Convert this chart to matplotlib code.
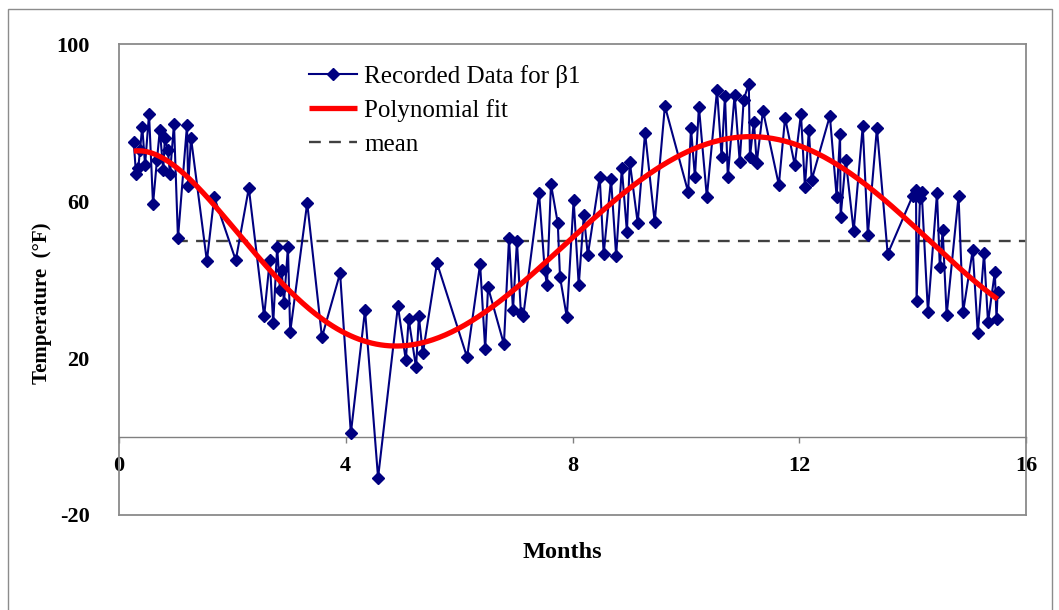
import numpy as np
import matplotlib
matplotlib.use("Agg")
import matplotlib.pyplot as plt
from matplotlib.patches import Rectangle

# Recorded temperatures (°F) against time (months)
months = [0.26, 0.30, 0.34, 0.37, 0.41, 0.46, 0.53, 0.60, 0.67, 0.72,
          0.78, 0.81, 0.86, 0.90, 0.97, 1.04, 1.20, 1.22, 1.27, 1.55,
          1.68, 2.06, 2.29, 2.56, 2.66, 2.72, 2.79, 2.84, 2.87, 2.91,
          2.98, 3.02, 3.32, 3.58, 3.90, 4.09, 4.34, 4.57, 4.92, 5.06,
          5.11, 5.24, 5.29, 5.36, 5.61, 6.14, 6.37, 6.46, 6.51, 6.79,
          6.88, 6.95, 7.02, 7.09, 7.13, 7.41, 7.51, 7.55, 7.62, 7.74,
          7.78, 7.90, 8.02, 8.11, 8.20, 8.27, 8.48, 8.55, 8.68, 8.77,
          8.87, 8.96, 9.01, 9.15, 9.28, 9.45, 9.63, 10.04, 10.09, 10.16,
          10.23, 10.37, 10.55, 10.63, 10.69, 10.74, 10.86, 10.95, 11.02, 11.11,
          11.13, 11.20, 11.25, 11.36, 11.64, 11.75, 11.92, 12.03, 12.10, 12.17,
          12.22, 12.54, 12.66, 12.72, 12.73, 12.82, 12.96, 13.12, 13.21, 13.37,
          13.56, 14.00, 14.06, 14.07, 14.13, 14.16, 14.27, 14.43, 14.48, 14.53,
          14.60, 14.81, 14.89, 15.06, 15.15, 15.26, 15.33, 15.45, 15.48, 15.50]
temps = [75.1, 66.9, 68.4, 73.0, 78.9, 69.2, 82.2, 59.2, 70.5, 78.1,
         67.9, 76.1, 73.0, 66.9, 79.7, 50.5, 79.4, 63.8, 76.1, 44.7,
         61.0, 44.9, 63.3, 30.6, 44.9, 28.8, 48.3, 37.3, 42.4, 34.0,
         48.3, 26.6, 59.5, 25.3, 41.6, 0.8, 32.2, -10.5, 33.2, 19.4,
         29.9, 17.6, 30.6, 21.2, 44.2, 20.2, 43.9, 22.2, 38.0, 23.5,
         50.5, 32.2, 49.8, 31.4, 30.6, 62.0, 42.4, 38.5, 64.3, 54.4,
         40.6, 30.4, 60.3, 38.5, 56.4, 46.2, 66.1, 46.5, 65.6, 46.0,
         68.4, 52.1, 70.0, 54.4, 77.4, 54.6, 84.2, 62.3, 78.6, 66.1,
         84.0, 61.0, 88.3, 71.2, 86.8, 66.1, 87.1, 70.0, 85.8, 89.9,
         71.2, 80.2, 69.7, 83.0, 64.1, 81.2, 69.2, 82.2, 63.6, 78.1,
         65.4, 81.7, 61.0, 77.1, 55.9, 70.5, 52.3, 79.1, 51.3, 78.6,
         46.5, 61.3, 62.8, 34.5, 60.8, 62.3, 31.7, 62.0, 43.1, 52.6,
         30.9, 61.3, 31.7, 47.5, 26.3, 46.7, 29.1, 41.9, 29.9, 36.8]

# Mean level and the span over which it is drawn
mean_temp = 49.9
mean_span = [1.0, 16.0]

x_ticks = [0, 4, 8, 12, 16]
y_ticks = [-20, 20, 60, 100]

serif = ["Liberation Serif", "DejaVu Serif"]
plt.rcParams["font.family"] = serif

W, H = 1059, 610
fig = plt.figure(figsize=(W / 100, H / 100), dpi=100)
fig.patch.set_facecolor("white")

# Outer chart border
fig.patches.append(Rectangle((8 / W, -0.05), (1052 - 8) / W, 1.05 - 9 / H,
                             transform=fig.transFigure, fill=False,
                             edgecolor="#8c8c8c", linewidth=1.0))

left, right, top, bottom = 119, 1026, 44, 515
ax = fig.add_axes([left / W, 1 - bottom / H, (right - left) / W, (bottom - top) / H])

# Polynomial fit through the recorded data
m = np.asarray(months)
t = np.asarray(temps)
coef = np.polyfit(m, t, 6)
xs = np.linspace(m.min(), m.max(), 400)
fit = np.polyval(coef, xs)

ax.plot(months, temps, color="#000080", linewidth=1.5, marker="D",
        markersize=6.3, markerfacecolor="#000080", markeredgecolor="#000080",
        label="Recorded Data for β1", zorder=3)
ax.plot(xs, fit, color="#ff0000", linewidth=3.8, label="Polynomial fit",
        solid_capstyle="butt", zorder=4)
ax.plot(mean_span, [mean_temp, mean_temp], color="#404040", linewidth=1.7,
        dashes=(5, 3.5), label="mean", zorder=2)

ax.set_xlim(0, 16)
ax.set_ylim(-20, 100)
ax.set_xticks(x_ticks)
ax.set_yticks(y_ticks)
ax.set_xticklabels([str(v) for v in x_ticks])
ax.set_yticklabels([str(v) for v in y_ticks])

# Plot-area frame in gray, horizontal axis crossing at zero
for s in ["top", "right", "left"]:
    ax.spines[s].set_color("#8a8a8a")
    ax.spines[s].set_linewidth(1.3)
ax.spines["bottom"].set_position(("data", 0))
ax.spines["bottom"].set_color("#808080")
ax.spines["bottom"].set_linewidth(1.0)
ax.add_line(plt.Line2D([0, 1], [0, 0], transform=ax.transAxes,
                       color="#8a8a8a", linewidth=1.3, clip_on=False))

ax.tick_params(axis="x", direction="out", length=4, width=1, color="#808080",
               pad=10, labelsize=16)
ax.tick_params(axis="y", length=0, pad=21, labelsize=16)
for lab in ax.get_xticklabels() + ax.get_yticklabels():
    lab.set_fontweight("bold")

fig.text(562 / W, 1 - 553 / H, "Months", ha="center", va="center",
         fontsize=17.5, fontweight="bold")
fig.text(42 / W, 1 - 303 / H, "Temperature  (°F)", ha="center", va="center",
         rotation=90, fontsize=15, fontweight="bold")

leg = ax.legend(loc="upper left", bbox_to_anchor=(180 / (right - left), 1 - 11 / (bottom - top)),
                frameon=False, fontsize=18, handlelength=1.9, handletextpad=0.3,
                labelspacing=0.45, borderaxespad=0)

fig.savefig("out.png", dpi=100, facecolor="white")
